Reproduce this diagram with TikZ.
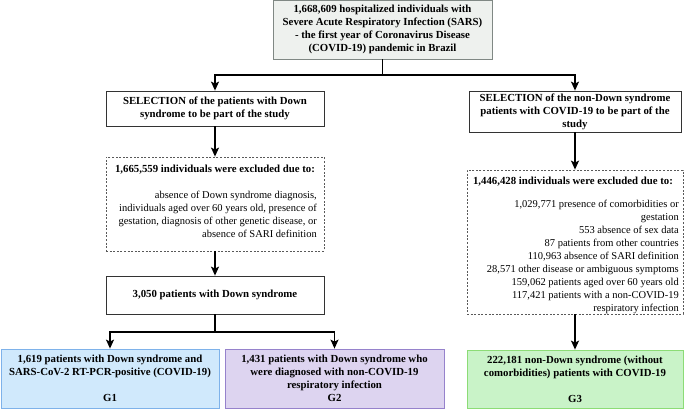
\documentclass[tikz,border=0pt]{standalone}
\usepackage{fontspec}
\setmainfont{Liberation Serif}
\usepackage{xcolor}
\usetikzlibrary{arrows.meta}

\definecolor{topfill}{RGB}{238,241,238}
\definecolor{topdraw}{RGB}{128,136,132}
\definecolor{gonefill}{RGB}{208,233,252}
\definecolor{gonedraw}{RGB}{126,178,234}
\definecolor{gtwofill}{RGB}{221,212,240}
\definecolor{gtwodraw}{RGB}{150,130,204}
\definecolor{gthreefill}{RGB}{201,243,200}
\definecolor{gthreedraw}{RGB}{140,220,118}

\begin{document}
\begin{tikzpicture}[x=1pt,y=-1pt,
%    every node/.style={draw},
    every node/.style={font=\fontsize{10.8}{13}\selectfont\bfseries,align=center,inner sep=0pt},
    box/.style={draw=black!80,line width=0.8pt},
    excl/.style={draw=black!65,line width=0.8pt,dash pattern=on 2pt off 1.6pt},
    plain/.style={font=\fontsize{10.5}{13}\selectfont,align=right},
    conn/.style={line width=1.4pt},
    arr/.style={conn,-{Stealth[length=9pt,width=8pt,inset=2pt]}}]

    \useasboundingbox (0,0) rectangle (685,410);

    \node[box,draw=topdraw,fill=topfill,minimum width=219pt,minimum height=59pt] (total) at (382.5,29.5)
      {1,668,609 hospitalized individuals with\\Severe Acute Respiratory Infection (SARS)\\- the first year of Coronavirus Disease\\(COVID-19) pandemic in Brazil};

    % Down syndrome side
    \node[box,minimum width=218pt,minimum height=35pt] (selL) at (215,108.5)
      {SELECTION of the patients with Down\\syndrome to be part of the study};
    \node[excl,minimum width=218pt,minimum height=94pt] (exL) at (215,204) {};
    \node[anchor=base] (exLhead) at (215,172) {1,665,559 individuals were excluded due to:};
    \node[plain,anchor=north east] (exLbody) at (317,190.8)
      {absence of Down syndrome diagnosis,\\individuals aged over 60 years old, presence of\\gestation, diagnosis of other genetic disease, or\\absence of SARI definition};
    \node[box,minimum width=218pt,minimum height=38pt] (ds) at (215,295) {3,050 patients with Down syndrome};

    \node[box,draw=gonedraw,fill=gonefill,minimum width=218pt,minimum height=59pt] (gone) at (110,378.5)
      {1,619 patients with Down syndrome and\\SARS-CoV-2 RT-PCR-positive (COVID-19)\\[13pt]G1};
    \node[box,draw=gtwodraw,fill=gtwofill,minimum width=219pt,minimum height=59pt] (gtwo) at (334.5,378.5)
      {1,431 patients with Down syndrome who\\were diagnosed with non-COVID-19\\respiratory infection\\G2};

    % non-Down syndrome side
    \node[box,minimum width=212pt,minimum height=41pt] (selR) at (575,111.5)
      {SELECTION of the non-Down syndrome\\patients with COVID-19 to be part of the\\study};
    \node[excl,minimum width=216pt,minimum height=144pt] (exR) at (575,242) {};
    \node[anchor=base] (exRhead) at (573,184) {1,446,428 individuals were excluded due to:};
    \node[plain,anchor=north east] (exRbody) at (679,199.8)
      {1,029,771 presence of comorbidities or\\gestation\\553 absence of sex data\\87 patients from other countries\\110,963 absence of SARI definition\\28,571 other disease or ambiguous symptoms\\159,062 patients aged over 60 years old\\117,421 patients with a non-COVID-19\\respiratory infection};
    \node[box,draw=gthreedraw,fill=gthreefill,minimum width=216pt,minimum height=58pt] (gthree) at (575,379)
      {222,181 non-Down syndrome (without\\comorbidities) patients with COVID-19\\[13pt]G3};

    \coordinate (fork) at (382.5,75);
    \coordinate (split) at (215,332);

    \draw[conn] (total) -- (fork);
    \draw[arr] (fork) -| (selL);
    \draw[arr] (fork) -| (selR);
    \draw[arr] (selL) -- (exL);
    \draw[arr] (exL) -- (ds);
    \draw[conn] (ds) -- (split);
    \draw[arr] (split) -| (gone);
    \draw[arr] (split) -| (gtwo);
    \draw[arr] (selR) -- (exR);
    \draw[arr] (exR) -- (gthree);
  \end{tikzpicture}
\end{document}
